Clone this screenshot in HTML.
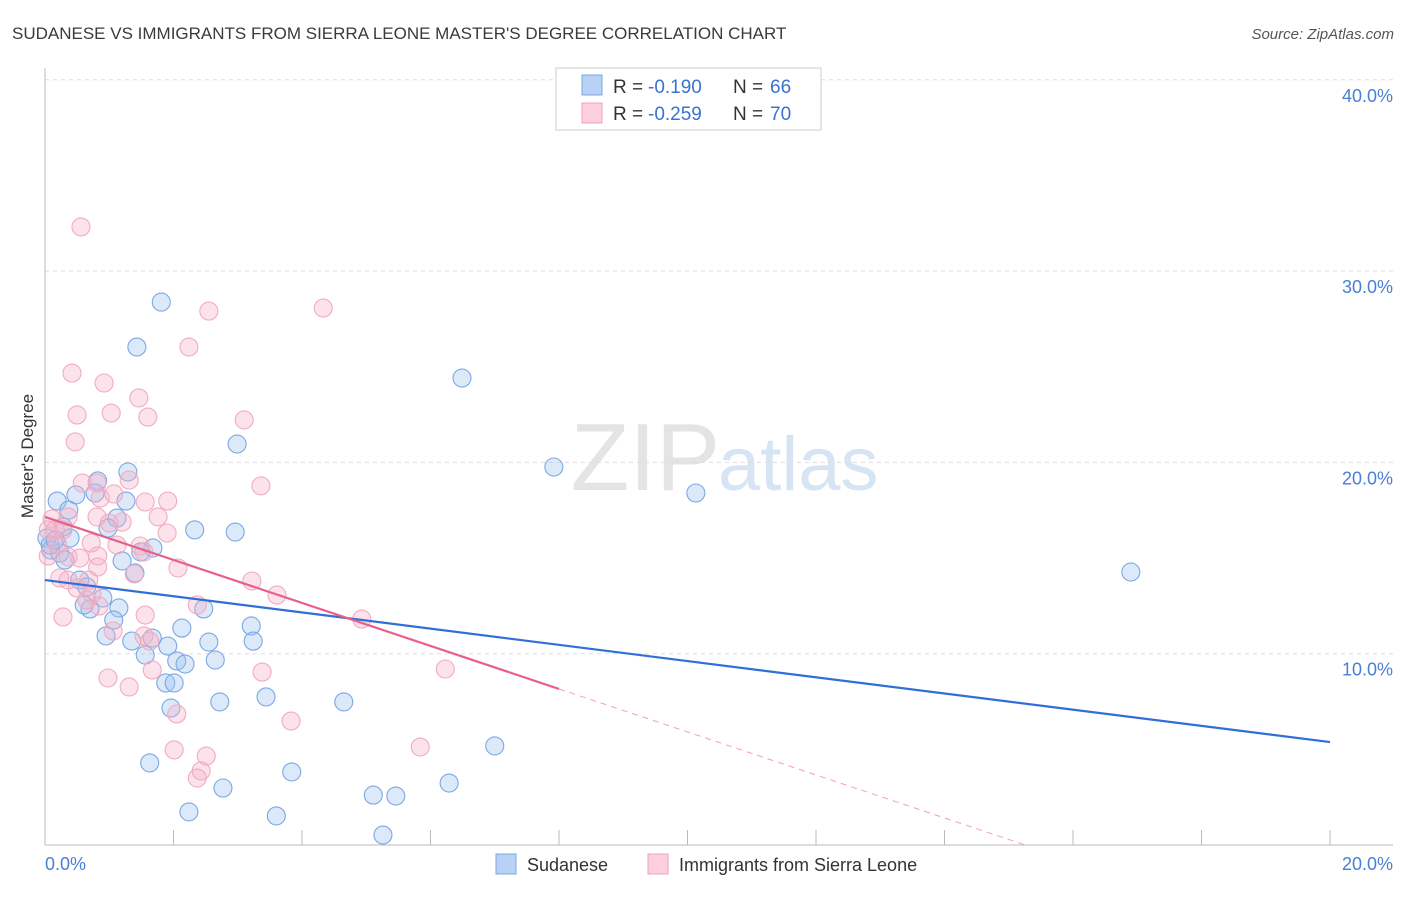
<!DOCTYPE html>
<html><head><meta charset="utf-8"><style>
body{margin:0;background:#fff;font-family:"Liberation Sans",sans-serif;}
svg text{font-family:"Liberation Sans",sans-serif;}
</style></head><body>
<svg width="1406" height="892" xmlns="http://www.w3.org/2000/svg">
<text x="12" y="39" font-size="17" fill="#3a3a3a">SUDANESE VS IMMIGRANTS FROM SIERRA LEONE MASTER'S DEGREE CORRELATION CHART</text>
<text x="1394" y="39" font-size="15" fill="#555" font-style="italic" text-anchor="end">Source: ZipAtlas.com</text>
<text x="720" y="490" font-size="96" fill="#e4e4e4" text-anchor="end" font-family="Liberation Serif">ZIP</text>
<text x="718" y="490" font-size="76" fill="#d6e4f4">atlas</text>
<g id="grid"></g>
<line x1="45" y1="68" x2="45" y2="845" stroke="#bbb"/>
<line x1="45" y1="845" x2="1393" y2="845" stroke="#bbb"/>
<g id="ticks"></g>
<g id="pts"></g>
<g id="lines"></g>
<text transform="translate(33,456) rotate(-90)" font-size="17" fill="#333" text-anchor="middle">Master's Degree</text>
<text x="45" y="870" font-size="18" fill="#4a7fd4">0.0%</text>
<text x="1393" y="870" font-size="18" fill="#4a7fd4" text-anchor="end">20.0%</text>
<g>
<rect x="556" y="68" width="265" height="62" fill="#fff" stroke="#ccc"/>
<rect x="582" y="75" width="20" height="20" fill="#b8d2f4" stroke="#7aa8e6"/>
<rect x="582" y="103" width="20" height="20" fill="#fbd0dc" stroke="#f0a0b8"/>
<text x="613" y="93" font-size="19" fill="#333">R =</text>
<text x="648" y="93" font-size="19" fill="#3a72d0">-0.190</text>
<text x="733" y="93" font-size="19" fill="#333">N =</text>
<text x="770" y="93" font-size="19" fill="#3a72d0">66</text>
<text x="613" y="120" font-size="19" fill="#333">R =</text>
<text x="648" y="120" font-size="19" fill="#3a72d0">-0.259</text>
<text x="733" y="120" font-size="19" fill="#333">N =</text>
<text x="770" y="120" font-size="19" fill="#3a72d0">70</text>
</g>
<g>
<rect x="496" y="854" width="20" height="20" fill="#b8d2f4" stroke="#7aa8e6"/>
<text x="527" y="871" font-size="18" fill="#333">Sudanese</text>
<rect x="648" y="854" width="20" height="20" fill="#fbd0dc" stroke="#f0a0b8"/>
<text x="679" y="871" font-size="18" fill="#333">Immigrants from Sierra Leone</text>
</g>
</svg>
<script>
const yTicks=[10,20,30,40];
const yTickLabels=["10.0%","20.0%","30.0%","40.0%"];
const xTicks=[0,2,4,6,8,10,12,14,16,18,20];
const blueX=[1.81,1.43,6.49,2.99,7.92,10.13,16.90,1.29,0.82,0.78,0.48,0.19,0.37,1.12,1.26,0.98,2.33,2.96,0.28,0.03,0.39,0.09,0.23,1.68,1.49,1.20,1.40,0.54,0.65,0.70,0.61,0.90,1.15,2.47,1.07,2.13,3.21,0.95,1.35,1.67,1.91,2.55,3.24,1.56,2.05,2.18,2.65,1.88,2.01,2.72,3.44,4.65,1.96,7.00,1.63,3.84,2.77,6.29,5.11,5.46,2.24,3.60,5.26,0.08,0.16,0.31];
const blueY=[28.38,26.03,24.41,20.96,19.76,18.40,14.27,19.50,19.03,18.40,18.30,17.98,17.51,17.09,17.98,16.57,16.47,16.36,16.62,16.05,16.05,15.42,15.26,15.53,15.32,14.85,14.22,13.85,13.49,12.34,12.55,12.91,12.39,12.34,11.76,11.34,11.45,10.93,10.66,10.82,10.40,10.61,10.66,9.93,9.62,9.46,9.67,8.47,8.47,7.48,7.74,7.48,7.16,5.18,4.29,3.82,2.98,3.24,2.61,2.56,1.73,1.52,0.52,15.68,15.94,14.90];
const pinkX=[0.56,2.55,4.33,2.24,0.42,0.92,1.46,0.50,1.03,1.60,3.10,0.47,3.36,0.58,0.81,1.31,0.86,1.07,1.56,1.91,1.76,0.81,0.36,0.11,1.00,1.20,1.90,0.05,0.28,0.72,1.12,1.48,1.54,0.82,0.36,0.54,0.05,2.07,0.82,1.39,0.68,0.23,0.36,3.22,0.50,3.61,0.73,2.37,0.84,0.65,1.56,0.28,4.93,1.06,1.54,1.63,1.67,6.23,3.38,0.98,1.31,2.05,3.83,5.84,2.01,2.51,2.43,2.37,0.16,0.20];
const pinkY=[32.31,27.91,28.07,26.03,24.67,24.15,23.37,22.48,22.58,22.37,22.22,21.07,18.77,18.92,18.92,19.08,18.14,18.35,17.93,17.98,17.15,17.15,17.15,17.04,16.83,16.88,16.31,16.47,16.47,15.79,15.68,15.63,15.32,15.11,15.06,15.00,15.11,14.48,14.53,14.17,13.85,13.96,13.85,13.80,13.43,13.07,13.12,12.55,12.49,12.81,12.02,11.92,11.81,11.19,10.93,10.66,9.15,9.20,9.04,8.73,8.26,6.85,6.48,5.12,4.97,4.65,3.87,3.50,16.47,15.68];
const blueTrend=[13.85,5.38];
const pinkTrend=[17.15,-1.124];
const NS="http://www.w3.org/2000/svg";
const sx=v=>45+v*64.25, sy=v=>845-v*19.13;
function mk(tag,attrs,parent){const e=document.createElementNS(NS,tag);for(const k in attrs)e.setAttribute(k,attrs[k]);document.getElementById(parent).appendChild(e);return e;}
yTicks.forEach((t,i)=>{
 const l=mk('line',{x1:45,x2:1393,y1:sy(t),y2:sy(t),stroke:'#ddd','stroke-dasharray':'4,4'},'grid');
 
 
 const tx=mk('text',{x:1393,y:sy(t)+22,'font-size':18,fill:'#4a7fd4','text-anchor':'end'},'grid');
 tx.textContent=yTickLabels[i];
 
 
});
xTicks.forEach(t=>{
 const l=mk('line',{x1:sx(t),x2:sx(t),y1:830,y2:845,stroke:'#bbb'},'ticks');
 
 
});
function pts(X,Y,fill,stroke,name){X.forEach((x,i)=>{
 const c=mk('circle',{cx:sx(x),cy:sy(Y[i]),r:9,fill:fill,stroke:stroke,'stroke-width':1.1},'pts');
 
 
});}
pts(blueX,blueY,'rgba(160,196,240,0.38)','#7aa8e6','sudanese-point');
pts(pinkX,pinkY,'rgba(247,175,198,0.35)','#f2abc0','sierra-leone-point');
const b=mk('line',{x1:sx(0),y1:sy(blueTrend[0]),x2:sx(20),y2:sy(blueTrend[1]),stroke:'#2f6fd6','stroke-width':2.2},'lines');


const pf=x=>pinkTrend[0]+pinkTrend[1]*x;
const p1=mk('line',{x1:sx(0),y1:sy(pf(0)),x2:sx(8),y2:sy(pf(8)),stroke:'#e8608a','stroke-width':2.2},'lines');


const xe=pinkTrend[0]/-pinkTrend[1];
const p2=mk('line',{x1:sx(8),y1:sy(pf(8)),x2:sx(xe),y2:sy(0),stroke:'#f0a0b8','stroke-width':1,'stroke-dasharray':'6,5'},'lines');


</script>
</body></html>
